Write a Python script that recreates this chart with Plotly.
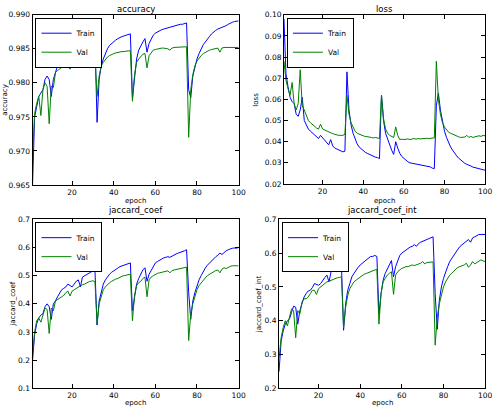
import plotly.graph_objects as go

epochs = list(range(1, 101))

acc_train = [0.9650, 0.9750, 0.9765, 0.9780, 0.9785, 0.9790, 0.9805, 0.9810, 0.9805, 0.9780,
             0.9805, 0.9815, 0.9825, 0.9830, 0.9835, 0.9838, 0.9842, 0.9842, 0.9840, 0.9838,
             0.9845, 0.9848, 0.9850, 0.9843, 0.9852, 0.9855, 0.9858, 0.9859, 0.9860, 0.9862,
             0.9860, 0.9742, 0.9805, 0.9825, 0.9835, 0.9843, 0.9850, 0.9855, 0.9858, 0.9861,
             0.9863, 0.9865, 0.9867, 0.9868, 0.9869, 0.9870, 0.9871, 0.9872, 0.9778, 0.9808,
             0.9835, 0.9848, 0.9855, 0.9860, 0.9865, 0.9845, 0.9858, 0.9865, 0.9870, 0.9873,
             0.9875, 0.9877, 0.9878, 0.9879, 0.9880, 0.9880, 0.9881, 0.9882, 0.9883, 0.9884,
             0.9885, 0.9886, 0.9886, 0.9887, 0.9888, 0.9790, 0.9778, 0.9810, 0.9825, 0.9835,
             0.9843, 0.9850, 0.9856, 0.9860, 0.9865, 0.9868, 0.9872, 0.9875, 0.9877, 0.9879,
             0.9880, 0.9882, 0.9883, 0.9884, 0.9886, 0.9888, 0.9889, 0.9890, 0.9890, 0.9891]
acc_val = [0.9690, 0.9755, 0.9770, 0.9780, 0.9752, 0.9790, 0.9800, 0.9795, 0.9740, 0.9795,
           0.9793, 0.9815, 0.9818, 0.9820, 0.9822, 0.9825, 0.9828, 0.9826, 0.9820, 0.9828,
           0.9830, 0.9832, 0.9832, 0.9835, 0.9835, 0.9837, 0.9838, 0.9840, 0.9841, 0.9841,
           0.9838, 0.9780, 0.9810, 0.9825, 0.9830, 0.9835, 0.9838, 0.9840, 0.9842, 0.9843,
           0.9844, 0.9845, 0.9846, 0.9846, 0.9846, 0.9847, 0.9847, 0.9847, 0.9773, 0.9812,
           0.9830, 0.9835, 0.9838, 0.9842, 0.9843, 0.9822, 0.9840, 0.9845, 0.9848, 0.9849,
           0.9850, 0.9850, 0.9851, 0.9851, 0.9851, 0.9850, 0.9848, 0.9851, 0.9852, 0.9852,
           0.9852, 0.9853, 0.9853, 0.9853, 0.9853, 0.9720, 0.9790, 0.9812, 0.9825, 0.9832,
           0.9837, 0.9840, 0.9843, 0.9845, 0.9847, 0.9848, 0.9849, 0.9850, 0.9850, 0.9851,
           0.9845, 0.9851, 0.9852, 0.9852, 0.9852, 0.9853, 0.9852, 0.9853, 0.9852, 0.9852]

loss_train = [0.0980, 0.0720, 0.0660, 0.0610, 0.0590, 0.0580, 0.0530, 0.0520, 0.0550, 0.0610,
              0.0500, 0.0480, 0.0460, 0.0450, 0.0440, 0.0430, 0.0420, 0.0415, 0.0430, 0.0420,
              0.0405, 0.0400, 0.0385, 0.0410, 0.0380, 0.0370, 0.0365, 0.0360, 0.0355, 0.0352,
              0.0355, 0.0730, 0.0550, 0.0480, 0.0440, 0.0410, 0.0390, 0.0375, 0.0365, 0.0355,
              0.0350, 0.0345, 0.0340, 0.0335, 0.0330, 0.0327, 0.0325, 0.0320, 0.0620, 0.0500,
              0.0440, 0.0410, 0.0380, 0.0360, 0.0340, 0.0400, 0.0370, 0.0345, 0.0330, 0.0320,
              0.0310, 0.0305, 0.0300, 0.0298, 0.0295, 0.0293, 0.0292, 0.0290, 0.0290, 0.0287,
              0.0284, 0.0282, 0.0281, 0.0275, 0.0273, 0.0570, 0.0630, 0.0550, 0.0490, 0.0450,
              0.0420, 0.0395, 0.0375, 0.0360, 0.0345, 0.0333, 0.0322, 0.0313, 0.0305, 0.0298,
              0.0293, 0.0290, 0.0285, 0.0280, 0.0278, 0.0275, 0.0272, 0.0270, 0.0268, 0.0265]
loss_val = [0.0780, 0.0690, 0.0650, 0.0620, 0.0680, 0.0580, 0.0550, 0.0580, 0.0740, 0.0570,
            0.0550, 0.0520, 0.0500, 0.0490, 0.0480, 0.0470, 0.0465, 0.0460, 0.0483, 0.0460,
            0.0455, 0.0450, 0.0445, 0.0440, 0.0438, 0.0435, 0.0432, 0.0430, 0.0430, 0.0430,
            0.0435, 0.0620, 0.0530, 0.0490, 0.0470, 0.0450, 0.0440, 0.0435, 0.0430, 0.0428,
            0.0425, 0.0425, 0.0422, 0.0420, 0.0418, 0.0420, 0.0417, 0.0415, 0.0620, 0.0510,
            0.0460, 0.0440, 0.0430, 0.0425, 0.0420, 0.0470, 0.0430, 0.0410, 0.0412, 0.0410,
            0.0412, 0.0413, 0.0410, 0.0412, 0.0415, 0.0412, 0.0415, 0.0413, 0.0415, 0.0414,
            0.0416, 0.0415, 0.0417, 0.0416, 0.0418, 0.0780, 0.0600, 0.0530, 0.0490, 0.0470,
            0.0455, 0.0445, 0.0440, 0.0435, 0.0430, 0.0425, 0.0423, 0.0420, 0.0420, 0.0422,
            0.0430, 0.0420, 0.0425, 0.0420, 0.0423, 0.0425, 0.0428, 0.0425, 0.0430, 0.0428]

jac_train = [0.200, 0.290, 0.330, 0.350, 0.360, 0.365, 0.390, 0.400, 0.390, 0.345,
             0.400, 0.410, 0.425, 0.440, 0.450, 0.455, 0.460, 0.470, 0.465, 0.460,
             0.470, 0.480, 0.485, 0.460, 0.495, 0.500, 0.505, 0.510, 0.513, 0.517,
             0.515, 0.325, 0.410, 0.445, 0.470, 0.485, 0.497, 0.505, 0.512, 0.518,
             0.522, 0.527, 0.532, 0.535, 0.538, 0.541, 0.543, 0.545, 0.375, 0.430,
             0.470, 0.490, 0.505, 0.520, 0.528, 0.480, 0.505, 0.520, 0.535, 0.545,
             0.550, 0.555, 0.560, 0.563, 0.565, 0.567, 0.565, 0.570, 0.573, 0.577,
             0.580, 0.582, 0.585, 0.588, 0.592, 0.440, 0.345, 0.410, 0.440, 0.465,
             0.485, 0.500, 0.515, 0.527, 0.537, 0.545, 0.553, 0.560, 0.567, 0.572,
             0.580, 0.575, 0.583, 0.588, 0.592, 0.595, 0.597, 0.598, 0.597, 0.600]
jac_val = [0.220, 0.300, 0.340, 0.350, 0.335, 0.360, 0.385, 0.380, 0.295, 0.385,
           0.375, 0.410, 0.415, 0.420, 0.425, 0.430, 0.440, 0.445, 0.428, 0.445,
           0.450, 0.455, 0.460, 0.465, 0.468, 0.470, 0.475, 0.478, 0.480, 0.482,
           0.478, 0.330, 0.400, 0.430, 0.450, 0.460, 0.468, 0.475, 0.480, 0.485,
           0.488, 0.490, 0.495, 0.498, 0.500, 0.502, 0.503, 0.505, 0.340, 0.430,
           0.465, 0.475, 0.480, 0.490, 0.495, 0.425, 0.485, 0.495, 0.500, 0.505,
           0.508, 0.510, 0.512, 0.513, 0.515, 0.517, 0.510, 0.518, 0.520, 0.522,
           0.523, 0.525, 0.527, 0.528, 0.530, 0.270, 0.365, 0.400, 0.430, 0.450,
           0.465, 0.475, 0.485, 0.492, 0.500, 0.505, 0.510, 0.515, 0.518, 0.520,
           0.510, 0.523, 0.528, 0.525, 0.530, 0.533, 0.535, 0.534, 0.535, 0.535]

jaci_train = [0.250, 0.340, 0.370, 0.390, 0.400, 0.405, 0.425, 0.443, 0.440, 0.390,
              0.430, 0.450, 0.470, 0.480, 0.488, 0.490, 0.498, 0.510, 0.508, 0.505,
              0.510, 0.520, 0.528, 0.535, 0.515, 0.545, 0.552, 0.555, 0.558, 0.562,
              0.560, 0.372, 0.450, 0.490, 0.510, 0.530, 0.540, 0.550, 0.558, 0.565,
              0.570, 0.575, 0.580, 0.585, 0.590, 0.590, 0.593, 0.590, 0.420, 0.480,
              0.520, 0.540, 0.555, 0.565, 0.578, 0.530, 0.560, 0.580, 0.593, 0.600,
              0.605, 0.610, 0.615, 0.618, 0.620, 0.625, 0.620, 0.628, 0.632, 0.635,
              0.638, 0.640, 0.642, 0.645, 0.648, 0.480, 0.375, 0.460, 0.500, 0.525,
              0.545, 0.560, 0.575, 0.585, 0.595, 0.605, 0.612, 0.620, 0.625, 0.630,
              0.635, 0.640, 0.632, 0.645, 0.648, 0.652, 0.655, 0.655, 0.656, 0.655]
jaci_val = [0.290, 0.350, 0.380, 0.400, 0.385, 0.410, 0.435, 0.430, 0.350, 0.430,
            0.420, 0.455, 0.465, 0.465, 0.470, 0.480, 0.490, 0.490, 0.478, 0.495,
            0.500, 0.505, 0.510, 0.515, 0.517, 0.520, 0.522, 0.525, 0.527, 0.528,
            0.530, 0.380, 0.440, 0.475, 0.495, 0.505, 0.515, 0.520, 0.525, 0.530,
            0.535, 0.538, 0.540, 0.543, 0.545, 0.548, 0.550, 0.552, 0.390, 0.480,
            0.515, 0.525, 0.535, 0.540, 0.545, 0.478, 0.535, 0.545, 0.550, 0.555,
            0.557, 0.560, 0.560, 0.562, 0.565, 0.563, 0.565, 0.567, 0.570, 0.575,
            0.568, 0.572, 0.573, 0.572, 0.574, 0.328, 0.410, 0.450, 0.480, 0.500,
            0.515, 0.525, 0.535, 0.540, 0.548, 0.553, 0.558, 0.560, 0.562, 0.565,
            0.570, 0.558, 0.565, 0.575, 0.568, 0.572, 0.578, 0.580, 0.577, 0.575]

titles = ["accuracy", "loss", "jaccard_coef", "jaccard_coef_int"]
series_names = ["Train", "Val"]
x_ticks = [20, 40, 60, 80, 100]

panels = [
    (acc_train, acc_val, [0.965, 0.990], 0.005, ".3f"),
    (loss_train, loss_val, [0.02, 0.10], 0.01, ".2f"),
    (jac_train, jac_val, [0.1, 0.7], 0.1, ".1f"),
    (jaci_train, jaci_val, [0.2, 0.7], 0.1, ".1f"),
]

W, H = 500, 415
# plot-area boxes in pixels: (left, right, top, bottom)
boxes = [(33, 242, 11, 185), (288, 492, 11, 184), (33, 242, 220, 393), (283, 492, 220, 393)]
ylabel_x = [5, 260, 13, 263]
xlabel_y = [201, 201, 408, 408]

FONT = "DejaVu Sans"
colors = ["#0000ff", "#008000"]

fig = go.Figure()
layout = dict(width=W, height=H, margin=dict(l=0, r=0, t=0, b=0),
              paper_bgcolor="white", plot_bgcolor="white",
              font=dict(family=FONT, size=8, color="black"), annotations=[])

for i, (tr, va, yr, dt, fmt) in enumerate(panels):
    n = i + 1
    xa = "x" if n == 1 else f"x{n}"
    ya = "y" if n == 1 else f"y{n}"
    leg = "legend" if n == 1 else f"legend{n}"
    for s, (vals, name) in enumerate(zip([tr, va], series_names)):
        fig.add_trace(go.Scatter(x=epochs, y=vals, mode="lines", name=name,
                                 line=dict(color=colors[s], width=1),
                                 xaxis=xa, yaxis=ya, legend=leg, showlegend=True))
    l, r, t, b = boxes[i]
    xd = [l / W, r / W]
    yd = [1 - b / H, 1 - t / H]
    axis_common = dict(showline=True, linecolor="black", linewidth=1, mirror="ticks",
                       ticks="inside", ticklen=4, tickcolor="black", showgrid=False,
                       zeroline=False, tickfont=dict(family=FONT, size=7.5, color="black"))
    layout["xaxis" if n == 1 else f"xaxis{n}"] = dict(
        domain=xd, range=[1, 100], tickvals=x_ticks, anchor=ya, **axis_common)
    layout["yaxis" if n == 1 else f"yaxis{n}"] = dict(
        domain=yd, range=yr, dtick=dt, tick0=yr[0], tickformat=fmt, anchor=xa, **axis_common)
    layout[leg] = dict(x=(l + 3) / W, y=1 - (t + 3) / H, xanchor="left", yanchor="top",
                       bgcolor="white", bordercolor="black", borderwidth=1,
                       font=dict(family=FONT, size=7.5, color="black"),
                       itemwidth=30, tracegroupgap=0)
    layout["annotations"].append(dict(text=titles[i], x=(l + r) / 2 / W, y=1 - 5.5 / H if i < 2 else 1 - 211 / H,
                                      xref="paper", yref="paper", showarrow=False,
                                      xanchor="center", yanchor="middle",
                                      font=dict(family=FONT, size=8.5, color="black")))
    layout["annotations"].append(dict(text="epoch", x=(l + r) / 2 / W, y=1 - xlabel_y[i] / H,
                                      xref="paper", yref="paper", showarrow=False,
                                      xanchor="center", yanchor="middle",
                                      font=dict(family=FONT, size=7, color="black")))
    layout["annotations"].append(dict(text=titles[i], x=ylabel_x[i] / W, y=1 - (t + b) / 2 / H,
                                      xref="paper", yref="paper", showarrow=False, textangle=-90,
                                      xanchor="center", yanchor="middle",
                                      font=dict(family=FONT, size=7, color="black")))

fig.update_layout(**layout)
fig.write_html("out.html", config={"displayModeBar": False},
               post_script="document.body.style.margin='0';document.body.style.overflow='hidden';")
